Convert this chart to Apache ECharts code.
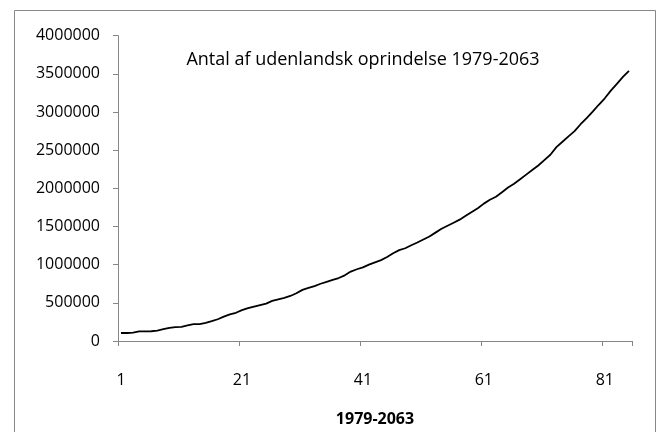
<!DOCTYPE html>
<html>
<head>
<meta charset="utf-8">
<script src="https://cdn.jsdelivr.net/npm/echarts@6/dist/echarts.min.js"></script>
<style>
html,body{margin:0;padding:0;background:#fff;}
#chart{width:662px;height:432px;}
</style>
</head>
<body>
<div id="chart"></div>
<script>
var titleText = 'Antal af udenlandsk oprindelse 1979-2063';
var xAxisName = '1979-2063';
var categories = [];
for (var c = 1; c <= 85; c++) categories.push(String(c));
var values = [
  105000, 105000, 110000, 126000, 127000, 128000, 135000, 155000, 172000, 183000,
  186000, 205000, 220000, 222000, 238000, 260000, 285000, 320000, 350000, 370000,
  405000, 430000, 450000, 470000, 490000, 525000, 545000, 565000, 590000, 625000,
  670000, 695000, 720000, 750000, 775000, 800000, 825000, 860000, 910000, 940000,
  965000, 1000000, 1030000, 1060000, 1100000, 1150000, 1190000, 1215000, 1255000, 1290000,
  1330000, 1370000, 1420000, 1470000, 1510000, 1550000, 1590000, 1640000, 1690000, 1740000,
  1800000, 1850000, 1890000, 1950000, 2010000, 2060000, 2120000, 2180000, 2240000, 2300000,
  2370000, 2440000, 2540000, 2610000, 2680000, 2750000, 2840000, 2920000, 3005000, 3095000,
  3180000, 3280000, 3370000, 3460000, 3540000
];
var yMin = 0, yMax = 4000000, yStep = 500000;

var chart = echarts.init(document.getElementById('chart'), null, {renderer: 'canvas'});
var font = '"Open Sans", Lato, sans-serif';
chart.setOption({
  animation: false,
  backgroundColor: '#fff',
  title: {
    text: titleText,
    left: 358,
    top: 46,
    textAlign: 'center',
    textStyle: {fontFamily: font, fontSize: 18, fontWeight: 'normal', color: '#000'}
  },
  graphic: [{
    type: 'rect',
    shape: {x: 14.5, y: 10.5, width: 641, height: 440},
    style: {fill: 'none', stroke: '#888', lineWidth: 1},
    silent: true
  }],
  grid: {left: 118, right: 30, top: 35.7, bottom: 84.5, containLabel: false},
  xAxis: {
    type: 'category',
    data: categories,
    boundaryGap: true,
    name: xAxisName,
    nameLocation: 'middle',
    nameGap: 70,
    nameTextStyle: {fontFamily: font, fontSize: 16, fontWeight: 'bold', color: '#000'},
    axisLine: {lineStyle: {color: '#868686', width: 1}},
    axisTick: {show: true, interval: 19, length: 5, lineStyle: {color: '#868686'}},
    axisLabel: {interval: 19, margin: 31, fontFamily: font, fontSize: 16, color: '#000'},
    splitLine: {show: false}
  },
  yAxis: {
    type: 'value',
    min: yMin, max: yMax, interval: yStep,
    axisLine: {show: true, lineStyle: {color: '#868686', width: 1}},
    axisTick: {show: true, length: 5, lineStyle: {color: '#868686'}},
    axisLabel: {margin: 18, fontFamily: font, fontSize: 16, color: '#000',
      formatter: function (v) { return String(v); }},
    splitLine: {show: false}
  },
  series: [{
    type: 'line',
    data: values,
    symbol: 'none',
    smooth: false,
    lineStyle: {color: '#000', width: 1.8}
  }]
});
</script>
</body>
</html>
